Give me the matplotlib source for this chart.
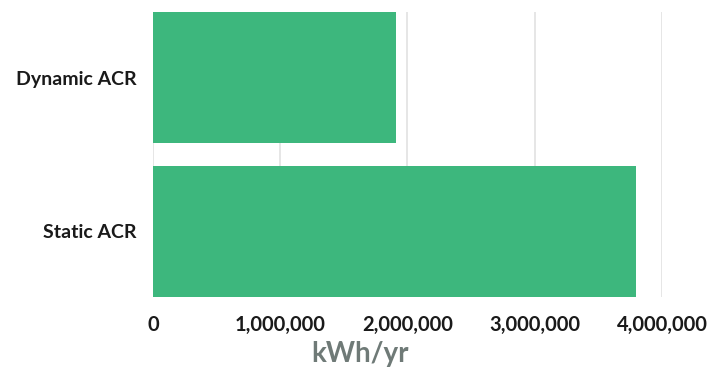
import matplotlib.pyplot as plt
from matplotlib.ticker import FuncFormatter

categories = ["Static ACR", "Dynamic ACR"]
energy_kwh = [3800000, 1910000]
x_ticks = [0, 1000000, 2000000, 3000000, 4000000]

GREEN = "#3db77d"
GRID = "#e2e2e2"
BAR_H = 0.856

plt.rcParams["font.family"] = ["Lato", "DejaVu Sans"]

fig = plt.figure(figsize=(7.11, 3.69), dpi=100)
ax = fig.add_axes([0.2152, 0.195, 0.7158, 0.7725])

ax.barh(range(len(categories)), energy_kwh, height=BAR_H, color=GREEN,
        zorder=2)

ax.set_xlim(0, 4000000)
ax.set_ylim(-BAR_H / 2, len(categories) - 1 + BAR_H / 2)
ax.set_xticks(x_ticks)
ax.xaxis.set_major_formatter(FuncFormatter(lambda v, _: f"{int(v):,}"))
ax.set_yticks(range(len(categories)))
ax.set_yticklabels(categories)

ax.grid(axis="x", color=GRID, linewidth=1.2, zorder=0)
ax.set_axisbelow(True)
for s in ax.spines.values():
    s.set_visible(False)
ax.tick_params(axis="both", length=0, colors="#1a1a1a")
ax.tick_params(axis="x", pad=13, labelsize=14.5)
ax.tick_params(axis="y", pad=12, labelsize=14)
for lbl in ax.get_xticklabels() + ax.get_yticklabels():
    lbl.set_fontweight("bold")

ax.set_xlabel("kWh/yr", fontsize=20, fontweight="bold", color="#6f7a77")
ax.xaxis.set_label_coords(0.407, -0.155)

fig.savefig("out.png", dpi=100)
